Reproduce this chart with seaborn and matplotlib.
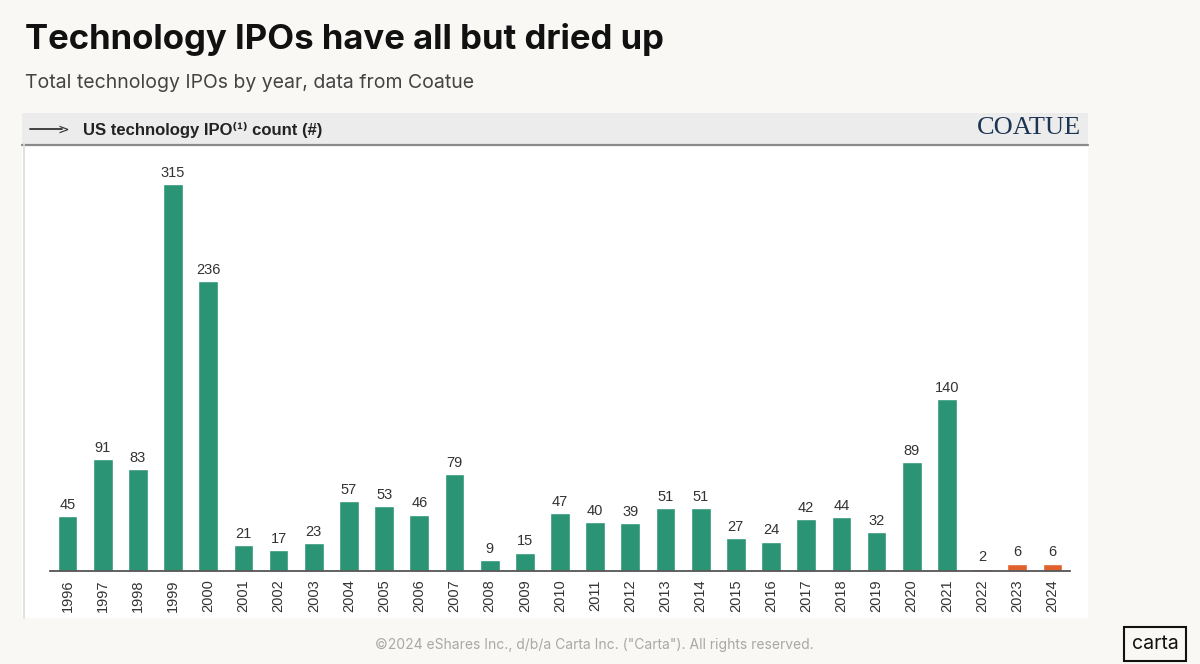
import matplotlib
matplotlib.use("Agg")
import matplotlib.pyplot as plt
import seaborn as sns
from matplotlib.patches import Rectangle

# data
years = [str(y) for y in range(1996, 2025)]
ipo_counts = [45, 91, 83, 315, 236, 21, 17, 23, 57, 53, 46, 79, 9, 15, 47,
              40, 39, 51, 51, 27, 24, 42, 44, 32, 89, 140, 2, 6, 6]
bar_colors = ["#2a9474"] * 26 + ["#c8452a", "#e0602e", "#e0602e"]

sns.set_theme(style="white")
plt.rcParams["font.family"] = ["Liberation Sans", "DejaVu Sans"]

W, H = 1200, 664
fig = plt.figure(figsize=(12, 6.64), dpi=100)
fig.patch.set_facecolor("#faf8f4")

# white panel with grey header band
fig.patches.append(Rectangle((22 / W, 1 - 618 / H), (1088 - 22) / W, (618 - 113) / H,
                             transform=fig.transFigure, facecolor="white",
                             edgecolor="none", zorder=-3))
fig.patches.append(Rectangle((22 / W, 1 - 144 / H), (1088 - 22) / W, (144 - 113) / H,
                             transform=fig.transFigure, facecolor="#ececec",
                             edgecolor="none", zorder=-2))
fig.add_artist(plt.Line2D([22 / W, 1088 / W], [1 - 144.5 / H] * 2, color="#8a8a8a",
                          lw=1.6, transform=fig.transFigure, zorder=-1))
fig.add_artist(plt.Line2D([24 / W, 24 / W], [1 - 144 / H, 1 - 618 / H], color="#dddddd",
                          lw=1.2, transform=fig.transFigure, zorder=-1))

ax = fig.add_axes([50 / W, 1 - 571 / H, (1070 - 50) / W, (571 - 150) / H])
ax.set_zorder(2)
ax.set_facecolor("none")

sns.barplot(x=years, y=ipo_counts, hue=years, palette=bar_colors, legend=False,
            width=0.56, saturation=1, ax=ax)
for cont in ax.containers:
    ax.bar_label(cont, padding=3, fontsize=10.5, color="#333333", fontweight="medium")

ax.set_xlim(-0.5, len(years) - 0.5)
ax.set_ylim(0, 343)
ax.set_yticks([])
ax.set_xlabel("")
ax.set_ylabel("")
for side in ["top", "right", "left"]:
    ax.spines[side].set_visible(False)
ax.spines["bottom"].set_color("#555555")
ax.spines["bottom"].set_linewidth(1.3)
ax.tick_params(axis="x", length=0, pad=6, labelsize=10.5, labelcolor="#333333",
               labelrotation=90)

# titles
fig.text(25 / W, 1 - 40 / H, "Technology IPOs have all but dried up", fontsize=25,
         fontweight="bold", family=["Inter", "DejaVu Sans"], color="#111111",
         va="center", ha="left")
fig.text(25 / W, 1 - 83 / H, "Total technology IPOs by year, data from Coatue", fontsize=14,
         family=["Inter", "DejaVu Sans"], color="#444444", va="center", ha="left")

# header band text
fig.add_artist(plt.Line2D([30 / W, 62 / W], [1 - 129 / H] * 2, color="#333333", lw=1.3,
                          transform=fig.transFigure))
fig.text(69 / W, 1 - 129.5 / H, ">", fontsize=10, color="#333333", va="center", ha="right",
         family=["DejaVu Sans"])
fig.text(83 / W, 1 - 130 / H, "US technology IPO\u207d\u00b9\u207e count (#)", fontsize=12,
         fontweight="bold", color="#222222", va="center",
         family=["Liberation Sans", "DejaVu Sans"])
fig.text(1081 / W, 1 - 128 / H, "COATUE", fontsize=19, color="#1c3552", va="center",
         ha="right", family=["Liberation Serif", "DejaVu Serif"])

# footer
fig.text(594 / W, 1 - 645 / H, "\u00a92024 eShares Inc., d/b/a Carta Inc. (\"Carta\"). All rights reserved.",
         fontsize=10, color="#a8a8a8", ha="center", va="center",
         family=["Inter", "DejaVu Sans"])
fig.text(1155 / W, 1 - 644 / H, "carta", fontsize=14, color="#111111", ha="center",
         va="center", family=["Inter", "DejaVu Sans"],
         bbox=dict(boxstyle="square,pad=0.4", facecolor="none", edgecolor="#111111", lw=1.5))

fig.savefig("out.png", dpi=100, facecolor=fig.get_facecolor())
